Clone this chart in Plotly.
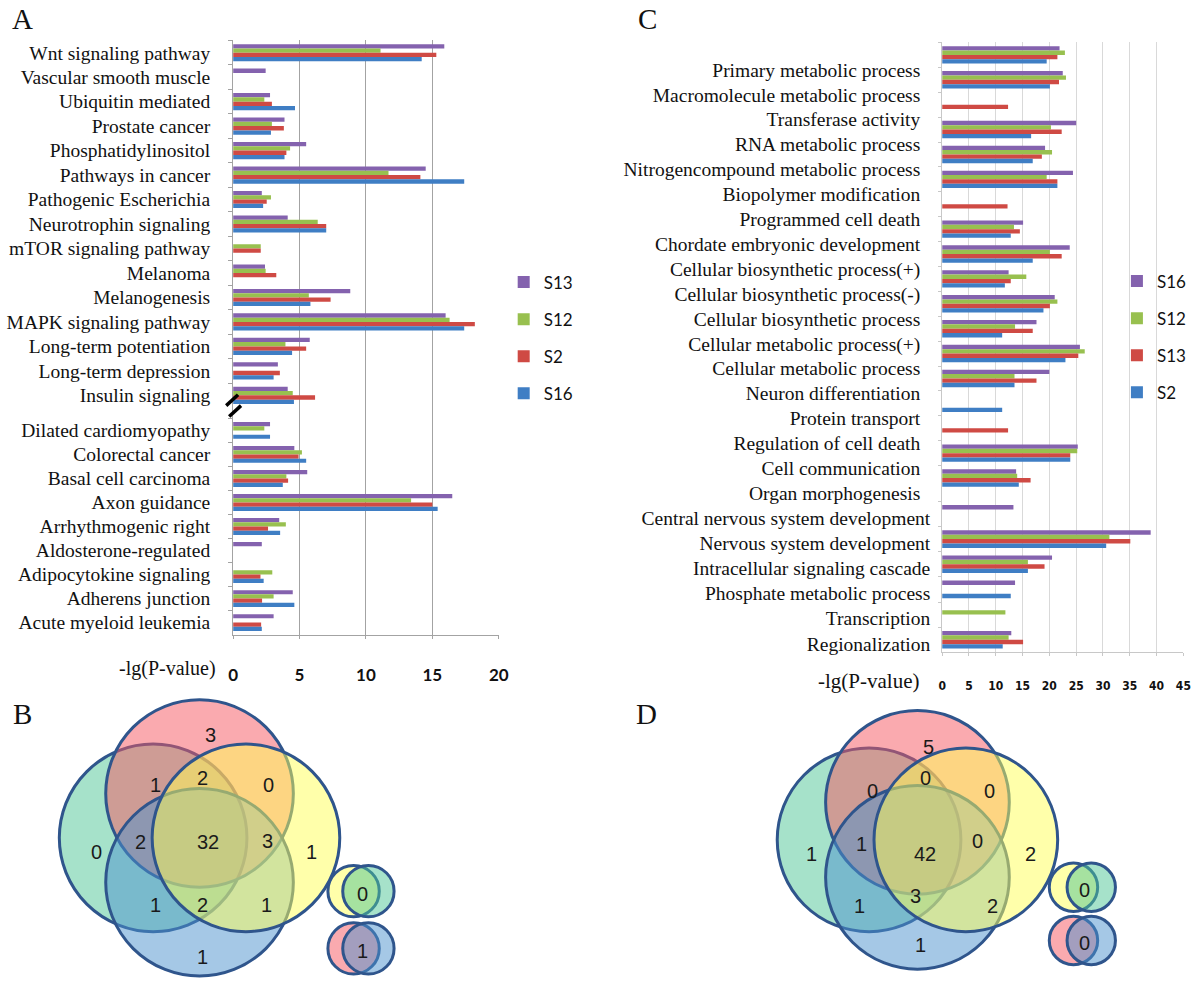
import plotly.graph_objects as go

W, H = 1200, 992


def px_x(x):
    return x / W


def px_y(y):
    return 1 - y / H


# ---------------- Panel A data (listed top to bottom) ----------------
a_series = ["S13", "S12", "S2", "S16"]
a_top_terms = ["Wnt signaling pathway", "Vascular smooth muscle", "Ubiquitin mediated",
               "Prostate cancer", "Phosphatidylinositol", "Pathways in cancer",
               "Pathogenic Escherichia", "Neurotrophin signaling", "mTOR signaling pathway",
               "Melanoma", "Melanogenesis", "MAPK signaling pathway", "Long-term potentiation",
               "Long-term depression", "Insulin signaling"]
a_top_s13 = [15.9, 2.45, 2.78, 3.87, 5.50, 14.5, 2.16, 4.11, None, 2.40, 8.82, 16.0, 5.77, 3.37, 4.11]
a_top_s12 = [11.1, None, 2.35, 2.92, 4.29, 11.7, 2.85, 6.37, 2.08, 2.45, 5.70, 16.3, 3.94, None, 4.49]
a_top_s2 = [15.3, None, 2.92, 3.82, 4.01, 14.1, 2.53, 7.01, 2.08, 3.25, 7.34, 18.2, 5.50, 3.52, 6.17]
a_top_s16 = [14.2, None, 4.66, 2.85, 3.87, 17.4, 2.26, 7.01, None, None, 5.82, 17.4, 4.44, 3.05, 4.58]

a_bot_terms = ["Dilated cardiomyopathy", "Colorectal cancer", "Basal cell carcinoma",
               "Axon guidance", "Arrhythmogenic right", "Aldosterone-regulated",
               "Adipocytokine signaling", "Adherens junction", "Acute myeloid leukemia"]
a_bot_s13 = [2.78, 4.61, 5.58, 16.5, 3.47, 2.16, None, 4.49, 3.05]
a_bot_s12 = [2.35, 5.18, 4.01, 13.4, 3.97, None, 2.95, 3.05, None]
a_bot_s2 = [None, 4.93, 4.14, 15.0, 2.63, None, 2.06, 2.18, 2.11]
a_bot_s16 = [2.78, 5.50, 3.74, 15.4, 3.54, None, 2.30, 4.61, 2.16]
a_ticks = [0, 5, 10, 15, 20]

# ---------------- Panel C data (listed top to bottom) ----------------
c_series = ["S16", "S12", "S13", "S2"]
c_top_terms = ["Primary metabolic process", "Macromolecule metabolic process",
               "Transferase activity", "RNA metabolic process",
               "Nitrogencompound metabolic process", "Biopolymer modification",
               "Programmed cell death", "Chordate embryonic development",
               "Cellular biosynthetic process(+)", "Cellular biosynthetic process(-)",
               "Cellular biosynthetic process", "Cellular metabolic process(+)",
               "Cellular metabolic process", "Neuron differentiation", "Protein transport",
               "Regulation of cell death", "Cell communication", "Organ morphogenesis"]
c_top_s16 = [21.9, 22.5, None, 25.0, 19.2, 24.4, None, 15.1, 23.8, 12.4, 21.0, 17.6, 25.7, 20.0, None, None, 25.3, 13.8]
c_top_s12 = [22.9, 23.1, None, 20.3, 20.5, 19.5, None, 13.4, 20.1, 15.7, 21.5, 13.6, 26.6, 13.5, None, None, 25.2, 14.0]
c_top_s13 = [21.5, 21.8, 12.3, 22.3, 18.6, 21.5, 12.2, 14.5, 22.3, 12.8, 20.1, 16.9, 25.4, 17.6, None, 12.3, 23.9, 16.5]
c_top_s2 = [19.5, 20.1, None, 16.6, 16.9, 21.5, None, 12.8, 16.9, 11.7, 18.9, 11.2, 23.0, 13.5, 11.2, None, 23.9, 14.3]

c_bot_terms = ["Central nervous system development", "Nervous system development",
               "Intracellular signaling cascade", "Phosphate metabolic process",
               "Transcription", "Regionalization"]
c_bot_s16 = [13.3, 38.9, 20.5, 13.6, None, 12.9]
c_bot_s12 = [None, 31.2, 16.0, None, 11.8, 12.4]
c_bot_s13 = [None, 35.1, 19.1, None, None, 15.1]
c_bot_s2 = [None, 30.6, 16.0, 12.8, None, 11.3]
c_ticks = [0, 5, 10, 15, 20, 25, 30, 35, 40, 45]

# ---------------- Venn counts ----------------
# region order: red only, green&red, green&red&yellow, red&yellow, green only,
# green&red&blue, all four, red&yellow&blue, yellow only, green&blue,
# green&yellow&blue, yellow&blue, blue only
venn_b_counts = [3, 1, 2, 0, 0, 2, 32, 3, 1, 1, 2, 1, 1]
venn_b_pairs = [0, 1]   # yellow&green only, red&blue only
venn_d_counts = [5, 0, 0, 0, 1, 1, 42, 0, 2, 1, 3, 2, 1]
venn_d_pairs = [0, 0]

# ---------------- styling ----------------
COL = {"purple": "#8462ae", "green": "#98c04f", "red": "#cf4a44", "blue": "#3f7ec4"}
a_colors = [COL["purple"], COL["green"], COL["red"], COL["blue"]]
c_colors = [COL["purple"], COL["green"], COL["red"], COL["blue"]]
SERIF = "Liberation Serif, Times New Roman, serif"
SANS = "Lato, Liberation Sans, sans-serif"
NARROW = "Liberation Sans Narrow, DejaVu Sans Condensed, Liberation Sans, sans-serif"

fig = go.Figure()

a_top = [a_top_s13, a_top_s12, a_top_s2, a_top_s16]
a_bot = [a_bot_s13, a_bot_s12, a_bot_s2, a_bot_s16]
for name, color, vt, vb in zip(a_series, a_colors, a_top, a_bot):
    fig.add_trace(go.Bar(x=vt, y=a_top_terms, orientation="h", name=name, marker_color=color,
                         marker_line_width=0, xaxis="x", yaxis="y", legend="legend",
                         legendgroup="a" + name, showlegend=True))
    fig.add_trace(go.Bar(x=vb, y=a_bot_terms, orientation="h", name=name, marker_color=color,
                         marker_line_width=0, xaxis="x2", yaxis="y2", legend="legend",
                         legendgroup="a" + name, showlegend=False))

c_top = [c_top_s16, c_top_s12, c_top_s13, c_top_s2]
c_bot = [c_bot_s16, c_bot_s12, c_bot_s13, c_bot_s2]
for name, color, vt, vb in zip(c_series, c_colors, c_top, c_bot):
    fig.add_trace(go.Bar(x=vt, y=c_top_terms, orientation="h", name=name, marker_color=color,
                         marker_line_width=0, xaxis="x3", yaxis="y3", legend="legend2",
                         legendgroup="c" + name, showlegend=True))
    fig.add_trace(go.Bar(x=vb, y=c_bot_terms, orientation="h", name=name, marker_color=color,
                         marker_line_width=0, xaxis="x4", yaxis="y4", legend="legend2",
                         legendgroup="c" + name, showlegend=False))

A_GRID = "#a3a3a3"
C_GRID = "#d9d9d9"
a_xdom = [px_x(231), px_x(500)]
c_xdom = [px_x(949), px_x(1193.3)]

cat_y = dict(type="category", showline=True, ticks="outside", tickson="boundaries",
             tickmode="linear", tick0=0, dtick=1,
             showgrid=False, zeroline=False, tickfont=dict(family=SERIF, size=19.5, color="#111"))

fig.update_layout(
    xaxis=dict(domain=a_xdom, range=[0, 20], anchor="y", tickvals=a_ticks, showticklabels=False,
               showgrid=True, gridcolor=A_GRID, gridwidth=1, zeroline=False, showline=False, ticks=""),
    yaxis=dict(domain=[px_y(413), px_y(41)], range=[14.5, -0.5], anchor="x",
               linecolor=A_GRID, tickcolor=A_GRID, ticklen=4, ticklabelstandoff=18, **cat_y),
    xaxis2=dict(domain=a_xdom, range=[0, 20], anchor="y2", tickvals=a_ticks, showgrid=True,
                gridcolor=A_GRID, zeroline=False, showline=True, linecolor=A_GRID, ticks="outside",
                ticklen=3, tickcolor=A_GRID, ticklabelstandoff=22,
                tickfont=dict(family=SANS, size=17, color="#111", weight="bold")),
    yaxis2=dict(domain=[px_y(643), px_y(413)], range=[8.5, -0.5 - 11 / 24.35], anchor="x2",
                linecolor=A_GRID, tickcolor=A_GRID, ticklen=4, ticklabelstandoff=18, **cat_y),
    xaxis3=dict(domain=c_xdom, range=[0, 45], anchor="y3", tickvals=c_ticks, showticklabels=False,
                showgrid=True, gridcolor=C_GRID, zeroline=False, showline=False, ticks=""),
    yaxis3=dict(domain=[px_y(497), px_y(43)], range=[17.5, -0.5], anchor="x3",
                linecolor="#c8c8c8", tickcolor="#c8c8c8", ticklen=3, ticklabelshift=-15,
                ticklabelstandoff=17, **cat_y),
    xaxis4=dict(domain=c_xdom, range=[0, 45], anchor="y4", tickvals=c_ticks, showgrid=True,
                gridcolor=C_GRID, zeroline=False, showline=True, linecolor="#c8c8c8", ticks="outside",
                ticklen=3, tickcolor="#c8c8c8", ticklabelstandoff=19,
                tickfont=dict(family=NARROW, size=12, color="#111", weight="bold")),
    yaxis4=dict(domain=[px_y(661), px_y(497)], range=[5.5, -0.5 - 11 / 25.5], anchor="x4",
                linecolor="#c8c8c8", tickcolor="#c8c8c8", ticklen=3, ticklabelshift=-4,
                ticklabelstandoff=7, **cat_y),
    barmode="group", bargap=0.3, bargroupgap=0,
    legend=dict(x=px_x(505), y=px_y(268), xanchor="left", yanchor="top", traceorder="grouped",
                tracegroupgap=12, font=dict(family=SANS, size=17, color="#111"),
                bgcolor="rgba(0,0,0,0)"),
    legend2=dict(x=px_x(1126), y=px_y(267), xanchor="left", yanchor="top", traceorder="grouped",
                 tracegroupgap=12, font=dict(family=SANS, size=17, color="#111"),
                 bgcolor="rgba(0,0,0,0)"),
    width=W, height=H, autosize=False, margin=dict(l=0, r=0, t=0, b=0),
    paper_bgcolor="white", plot_bgcolor="white", showlegend=True,
)

annotations = []


def add_text(x, y, text, size, family=SERIF, color="#111"):
    annotations.append(dict(x=px_x(x), y=px_y(y), xref="paper", yref="paper", text=text,
                            showarrow=False, xanchor="center", yanchor="middle",
                            font=dict(family=family, size=size, color=color)))


# panel letters and axis titles
add_text(18, 19, "A", 29)
add_text(18, 723, "B", 29)
add_text(651, 19, "C", 29)
add_text(650, 723, "D", 29)
add_text(165, 677, "-lg(P-value)", 20)
add_text(874, 690, "-lg(P-value)", 21)

shapes = []
# axis break marker in panel A
for (x0, y0, x1, y1) in [(224, 411, 236, 400), (227, 422, 239, 411)]:
    shapes.append(dict(type="line", xref="paper", yref="paper", x0=px_x(x0), y0=px_y(y0),
                       x1=px_x(x1), y1=px_y(y1), line=dict(color="black", width=3.5)))

# ---------------- Venn diagrams ----------------
STROKE = "#2f558c"
FILL = {"green": "rgba(77,197,150,0.5)", "red": "rgba(245,85,95,0.5)",
        "yellow": "rgba(255,255,85,0.5)", "blue": "rgba(75,145,205,0.5)"}


def circle(cx, cy, r, fill):
    shapes.append(dict(type="circle", xref="paper", yref="paper",
                       x0=px_x(cx - r), x1=px_x(cx + r), y0=px_y(cy + r), y1=px_y(cy - r),
                       fillcolor=fill, line=dict(color=STROKE, width=3), layer="above"))


def venn(c, dx, dy, r, counts, pairs, label_pos, mini):
    cx, cy = c
    for key, (ox, oy) in [("green", (-dx, 0)), ("red", (0, -dy)), ("blue", (0, dy)), ("yellow", (dx, 0))]:
        circle(cx + ox, cy + oy, r, FILL[key])
    for val, (lx, ly) in zip(counts, label_pos):
        add_text(lx, ly, str(val), 20, family="Liberation Sans, Arial, sans-serif", color="#1a1a1a")
    (mx1, mx2, my1, my2, mr, mlx) = mini
    circle(mx1, my1, mr, FILL["yellow"])
    circle(mx2, my1, mr, FILL["green"])
    circle(mx1, my2, mr, FILL["red"])
    circle(mx2, my2, mr, FILL["blue"])
    add_text(mlx, my1 + 3, str(pairs[0]), 20, family="Liberation Sans, Arial, sans-serif", color="#1a1a1a")
    add_text(mlx, my2 + 3, str(pairs[1]), 20, family="Liberation Sans, Arial, sans-serif", color="#1a1a1a")


b_label_pos = [(208, 745), (152, 795), (200, 788), (267, 795), (93, 863), (137, 853), (206, 853),
               (266, 852), (310, 863), (152, 917), (200, 917), (265, 917), (200, 970)]
d_label_pos = [(935, 757), (878, 802), (932, 788), (997, 802), (817, 865), (867, 855), (932, 865),
               (985, 852), (1038, 865), (865, 918), (922, 908), (1000, 918), (927, 958)]

venn((197, 849), 47, 45, 95, venn_b_counts, venn_b_pairs, b_label_pos,
     (353, 368, 903, 961, 26, 362))
venn((924, 851), 49, 38, 93, venn_d_counts, venn_d_pairs, d_label_pos,
     (1082, 1100, 899, 953, 24.5, 1093))

fig.update_layout(annotations=annotations, shapes=shapes)

fig.write_html("out.html", config={"displayModeBar": False},
               post_script="document.body.style.margin='0';document.body.style.overflow='hidden';")
